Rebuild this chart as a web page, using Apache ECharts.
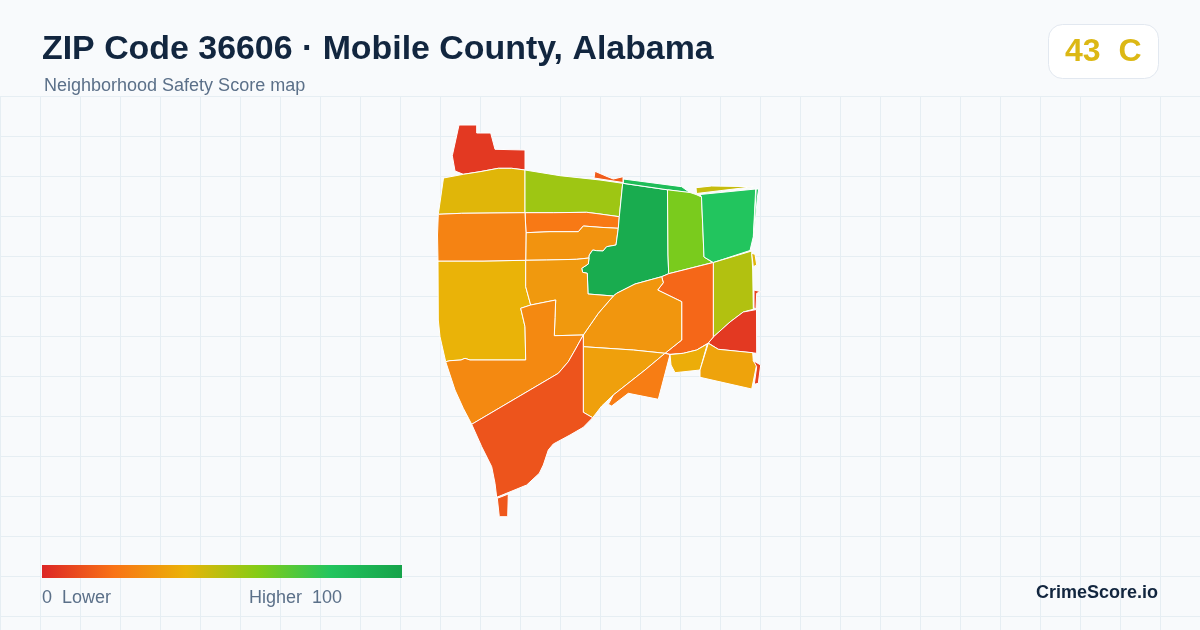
<!DOCTYPE html>
<html>
<head>
<meta charset="utf-8">
<script src="https://cdn.jsdelivr.net/npm/echarts@6/dist/echarts.min.js"></script>
<style>html,body{margin:0;padding:0;background:#f8fafc}#c{width:1200px;height:630px}</style>
</head>
<body>
<div id="c"></div>
<script>
// Data
var tractNames = ['A','B','C','D','E','F','F2','G','H','H2','I','Y1','R1','J','K','L','M','N','O','P','R2','R3','Y2','Q','R','S','T','U','V'];
var tractScores = [5,42,55,22,30,95,85,62,80,82,51,42,8,5,17,31,34,23,38,35,7,14,47,40,25,32,27,12,13];
var legendStops = ['#dc2626','#f97316','#eab308','#84cc16','#22c55e','#16a34a'];
var overallScore = '43';
var overallGrade = 'C';

// Tract outlines (map geometry)
var tractOutlines = {
  A:[[459,125],[476.7,125],[476.7,133],[490.7,133],[495,149.3],[525,150],[525,170],[511.7,168.3],[498.3,168.3],[480,171.7],[463.3,174.3],[455,171],[452.3,155.7]],
  B:[[525,170],[511.7,168.3],[498.3,168.3],[480,171.7],[463.3,174.3],[443.5,178],[438.3,214.3],[461.7,213.3],[525,212.7]],
  C:[[525,170],[560,175.7],[600,180],[622.7,183.3],[619.3,216.7],[600,214],[586.7,212.3],[553.3,212.7],[525,212.7]],
  D:[[525,212.7],[553.3,212.7],[586.7,212.3],[600,214],[619.3,216.7],[618.3,228.3],[600,227.3],[583.3,226],[578.3,231.7],[550,231.7],[526,232.7]],
  E:[[526,232.7],[550,231.7],[578.3,231.7],[583.3,226],[600,227.3],[618.3,228.3],[616,245],[606.7,246.7],[603,251],[596.7,250.7],[592.7,250],[589.3,255],[589,258],[576.7,259.3],[546.7,260],[525.7,260.3]],
  F:[[622.7,183.3],[667.5,189.8],[668,255],[668.7,273.7],[661.7,276.7],[635,284],[616.7,293.3],[613.3,296],[588,294],[587.3,273.3],[582.7,272.3],[581.7,268.3],[588.3,264],[589,258],[589.3,255],[592.7,250],[596.7,250.7],[603,251],[606.7,246.7],[616,245],[618.3,228.3],[619.3,216.7]],
  F2:[[623.3,179],[681.7,186.7],[690,192.7],[667.5,189.8],[623.3,183.3]],
  G:[[667.5,189.8],[690,192.5],[696,194.5],[701.5,197],[703,232],[704,257],[712.7,262.5],[668.7,273.7],[668,255]],
  H:[[700,194.5],[755.7,189],[753.3,236.7],[750,250.5],[713.3,262.5],[704,257],[703,232],[701.5,197]],
  H2:[[756.2,189],[758.7,189],[757.3,198],[755,225],[753.6,236.7]],
  I:[[713.3,262.5],[751.7,251],[752.7,270],[753.3,309.3],[743.3,312],[730,322],[713.3,337]],
  Y1:[[751.7,253.3],[755,254.3],[756.7,265],[753.3,266.7]],
  R1:[[754,290],[760.7,291.7],[756.7,293.3],[756,309],[754,308]],
  J:[[756.5,309.5],[756.7,353.3],[718.3,349.3],[708.3,343],[713.3,337],[730,322],[743.3,312]],
  K:[[713.3,262.5],[713.3,337],[708.3,343],[696.7,350],[683.3,353.3],[670,354.3],[665,353.3],[681.7,340],[681.7,301.7],[657.7,290],[663.3,282.7],[661.7,276.7],[668.7,273.7]],
  L:[[661.7,276.7],[635,284],[616.7,293.3],[613.3,296],[598.3,313.3],[583.3,335],[583.3,346.7],[633.3,350],[665,353.3],[681.7,340],[681.7,301.7],[657.7,290],[663.3,282.7]],
  M:[[583.3,346.7],[633.3,350],[665,353.3],[645,370],[613.3,395],[601.7,406],[592.7,417.7],[583.3,412.3]],
  N:[[665,353.3],[670,354.6],[658.3,399.3],[628.3,393.3],[611.7,406],[608.3,404.3],[613.3,395],[645,370]],
  O:[[670,354.6],[683.3,353.3],[696.7,350],[707.3,344],[700,370],[675,372.7],[671,365]],
  P:[[708.3,343.3],[718.3,349.3],[752.7,352.7],[753.3,360.7],[756.7,364.3],[751.7,389],[700,377.3],[700,370]],
  R2:[[753.3,360.7],[760.7,365],[758.3,383.3],[754.3,384.3],[756.7,366.7]],
  R3:[[595,171.3],[607,176.5],[613.3,179],[623,176.7],[623,182.5],[594,178]],
  Y2:[[696,187.7],[711.7,186],[753.3,186.7],[696.5,193.5]],
  Q:[[438,261],[483,261],[525.7,260.3],[525.7,286.7],[530.7,305],[520.7,308.3],[523,318],[525,326.7],[525.7,360],[470,360],[465,358.3],[461,360],[450,360.7],[445.7,361.7],[440,336.7],[438.3,320]],
  R:[[438.3,214.3],[461.7,213.3],[525,212.7],[526,232.7],[525.7,260.3],[483,261],[438,261],[437.5,235]],
  S:[[525.7,260.3],[546.7,260],[576.7,259.3],[589,258],[588.3,264],[581.7,268.3],[582.7,272.3],[587.3,273.3],[588,294],[613.3,296],[598.3,313.3],[583.3,335],[554.3,335.7],[555,317.3],[555.7,300],[530.7,305],[525.7,286.7]],
  T:[[445.7,361.7],[450,360.7],[461,360],[465,358.3],[470,360],[525.7,360],[525,326.7],[523,318],[520.7,308.3],[530.7,305],[555.7,300],[555,317.3],[554.3,335.7],[583.3,335],[575,350],[568.3,361.7],[558.3,373.3],[471.7,424.3],[463.3,408.3],[455,390]],
  U:[[471.7,424.3],[558.3,373.3],[568.3,361.7],[575,350],[583.3,335],[583.3,412.3],[592.7,417.7],[583.3,427.3],[570,435],[553.3,444],[548.3,450],[543.3,465],[539.3,473.3],[526.7,485],[496.7,497.3],[495,483.3],[491.7,466.7],[481.7,446.7]],
  V:[[497.3,498.3],[508.3,494],[507.7,516.7],[499.3,516.7]]
};

var features = tractNames.map(function (n) {
  var ring = tractOutlines[n].map(function (p) { return [p[0], -p[1]]; });
  ring.push(ring[0]);
  return { type: 'Feature', properties: { name: n }, geometry: { type: 'Polygon', coordinates: [ring] } };
});
echarts.registerMap('zip36606', { type: 'FeatureCollection', features: features });

var xs = [], ys = [];
tractNames.forEach(function (n) { tractOutlines[n].forEach(function (p) { xs.push(p[0]); ys.push(p[1]); }); });
var minX = Math.min.apply(null, xs), maxX = Math.max.apply(null, xs);
var minY = Math.min.apply(null, ys), maxY = Math.max.apply(null, ys);

var legendGradient = new echarts.graphic.LinearGradient(0, 0, 1, 0, legendStops.map(function (c, i) {
  return { offset: i / (legendStops.length - 1), color: c };
}));

var sans = '"Liberation Sans", Arial, sans-serif';
var chart = echarts.init(document.getElementById('c'), null, { renderer: 'canvas' });
chart.setOption({
  animation: false,
  backgroundColor: '#f8fafc',
  grid: { left: 0, top: 96, width: 1200, height: 534, show: false },
  xAxis: { type: 'value', min: 0, max: 1200, interval: 40, axisLine: { show: false }, axisTick: { show: false }, axisLabel: { show: false },
    splitLine: { show: true, lineStyle: { color: '#e6eef3', width: 1 } } },
  yAxis: { type: 'value', min: 0, max: 534, interval: 40, inverse: true, axisLine: { show: false }, axisTick: { show: false }, axisLabel: { show: false },
    splitLine: { show: true, lineStyle: { color: '#e6eef3', width: 1 } } },
  visualMap: {
    type: 'continuous', min: 0, max: 100, seriesIndex: 0, show: false,
    inRange: { color: legendStops }
  },
  series: [{
    type: 'map', map: 'zip36606', silent: true, aspectScale: 1, roam: false,
    boundingCoords: [[minX, -minY], [maxX, -maxY]],
    left: minX, top: minY, width: maxX - minX, height: maxY - minY,
    label: { show: false },
    itemStyle: { borderColor: '#ffffff', borderWidth: 1 },
    emphasis: { disabled: true },
    data: tractNames.map(function (n, i) { return { name: n, value: tractScores[i] }; })
  }],
  graphic: { elements: [
    { type: 'text', z: 100, x: 42, y: 49.5, style: { text: 'ZIP Code 36606 · Mobile County, Alabama', font: 'bold 33.9px ' + sans, fill: '#12263f', textVerticalAlign: 'middle' } },
    { type: 'text', z: 100, x: 44, y: 86, style: { text: 'Neighborhood Safety Score map', font: '18px ' + sans, fill: '#5b7089', textVerticalAlign: 'middle' } },
    { type: 'rect', z: 100, shape: { x: 1048.5, y: 24.5, width: 110, height: 54, r: 14 }, style: { fill: '#ffffff', stroke: '#e2e8f0', lineWidth: 1 } },
    { type: 'text', z: 101, x: 1065, y: 52.5, style: { text: overallScore + '  ' + overallGrade, font: 'bold 32px ' + sans, fill: '#dcb814', textVerticalAlign: 'middle' } },
    { type: 'rect', z: 100, shape: { x: 42, y: 565, width: 360, height: 13 }, style: { fill: legendGradient } },
    { type: 'text', z: 100, x: 42, y: 598, style: { text: '0  Lower', font: '18px ' + sans, fill: '#5b7089', textVerticalAlign: 'middle' } },
    { type: 'text', z: 100, x: 342, y: 598, style: { text: 'Higher  100', font: '18px ' + sans, fill: '#5b7089', textAlign: 'right', textVerticalAlign: 'middle' } },
    { type: 'text', z: 100, x: 1158, y: 593, style: { text: 'CrimeScore.io', font: 'bold 18px ' + sans, fill: '#12263f', textAlign: 'right', textVerticalAlign: 'middle' } }
  ] }
});
</script>
</body>
</html>
